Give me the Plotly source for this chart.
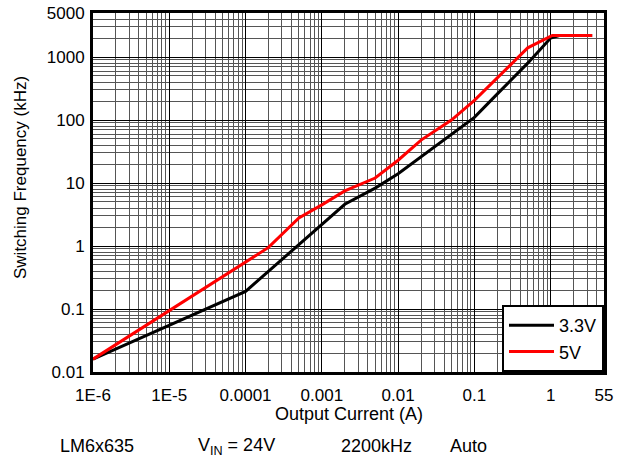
import plotly.graph_objects as go

# Data
i_33 = [1e-6, 1e-4, 2e-3, 5e-3, 0.01, 0.02, 0.1, 0.2, 0.5, 1.0, 1.3, 3.5]
f_33 = [0.016, 0.19, 4.6, 8.3, 14, 26, 110, 260, 800, 2000, 2200, 2200]

i_5 = [1e-6, 2e-4, 5e-4, 1e-3, 2e-3, 5e-3, 0.01, 0.02, 0.05, 0.1, 0.5, 1.05, 3.5]
f_5 = [0.016, 0.95, 2.8, 4.5, 7.5, 12, 23, 48, 100, 205, 1400, 2200, 2200]

x_tickvals = [1e-6, 1e-5, 1e-4, 1e-3, 1e-2, 1e-1, 1, 5]
x_ticktext = ["1E-6", "1E-5", "0.0001", "0.001", "0.01", "0.1", "1", "55"]
y_tickvals = [0.01, 0.1, 1, 10, 100, 1000, 5000]
y_ticktext = ["0.01", "0.1", "1", "10", "100", "1000", "5000"]

x_minor = [m * 10 ** e for e in range(-6, 1) for m in range(2, 10) if m * 10 ** e < 5]
y_minor = [m * 10 ** e for e in range(-2, 4) for m in range(2, 10) if m * 10 ** e < 5000]

FONT = "Liberation Sans, Arial, sans-serif"

# plot area in pixels (for placing texts)
L, R, T, B = 93, 604, 13, 372
PW, PH = R - L, B - T

fig = go.Figure()
fig.add_trace(go.Scatter(x=i_33, y=f_33, mode="lines", name="3.3V",
                         line=dict(color="black", width=3)))
fig.add_trace(go.Scatter(x=i_5, y=f_5, mode="lines", name="5V",
                         line=dict(color="#ff0000", width=3)))

axis_common = dict(
    type="log", automargin=False,
    showline=True, linecolor="black", linewidth=3, mirror=True,
    showgrid=True, gridcolor="black", gridwidth=1,
    ticks="", zeroline=False,
    tickfont=dict(family=FONT, size=17, color="black"),
)

fig.update_xaxes(
    **axis_common,
    range=[-6, 0.69897],
    tickmode="array", tickvals=x_tickvals, ticktext=x_ticktext,
    ticklabelstandoff=6,
    minor=dict(tickmode="array", tickvals=x_minor, showgrid=True,
               gridcolor="#555555", gridwidth=1, ticks=""),
)
fig.update_yaxes(
    **axis_common,
    range=[-2, 3.69897],
    tickmode="array", tickvals=y_tickvals, ticktext=y_ticktext,
    ticklabelstandoff=2,
    minor=dict(tickmode="array", tickvals=y_minor, showgrid=True,
               gridcolor="#555555", gridwidth=1, ticks=""),
)

# axis titles
fig.add_annotation(text="Output Current (A)", xref="paper", yref="paper",
                   x=(349 - L) / PW, y=(B - 414) / PH,
                   xanchor="center", yanchor="middle", showarrow=False,
                   font=dict(family=FONT, size=18, color="black"))
fig.add_annotation(text="Switching Frequency (kHz)", xref="paper", yref="paper",
                   x=(20 - L) / PW, y=(B - 178) / PH, textangle=-90,
                   xanchor="center", yanchor="middle", showarrow=False,
                   font=dict(family=FONT, size=17, color="black"))

footer = [("LM6x635", 58), ("V<sub>IN</sub> = 24V", 196), ("2200kHz", 339), ("Auto", 448)]
for txt, px in footer:
    fig.add_annotation(text=txt, xref="paper", yref="paper",
                       x=(px - L) / PW, y=(B - 446) / PH,
                       xanchor="left", yanchor="middle", showarrow=False,
                       font=dict(family=FONT, size=18, color="black"))

fig.update_layout(
    width=632, height=463,
    margin=dict(l=L, r=632 - R, t=T, b=463 - B, autoexpand=False),
    paper_bgcolor="white", plot_bgcolor="white",
    showlegend=True,
    legend=dict(x=1, y=0, xanchor="right", yanchor="bottom",
                bgcolor="white", bordercolor="black", borderwidth=2,
                itemwidth=45,
                font=dict(family=FONT, size=18, color="black")),
    font=dict(family=FONT, size=17, color="black"),
)

fig.write_html("out.html", config={"displayModeBar": False},
               post_script="document.body.style.margin='0';")
